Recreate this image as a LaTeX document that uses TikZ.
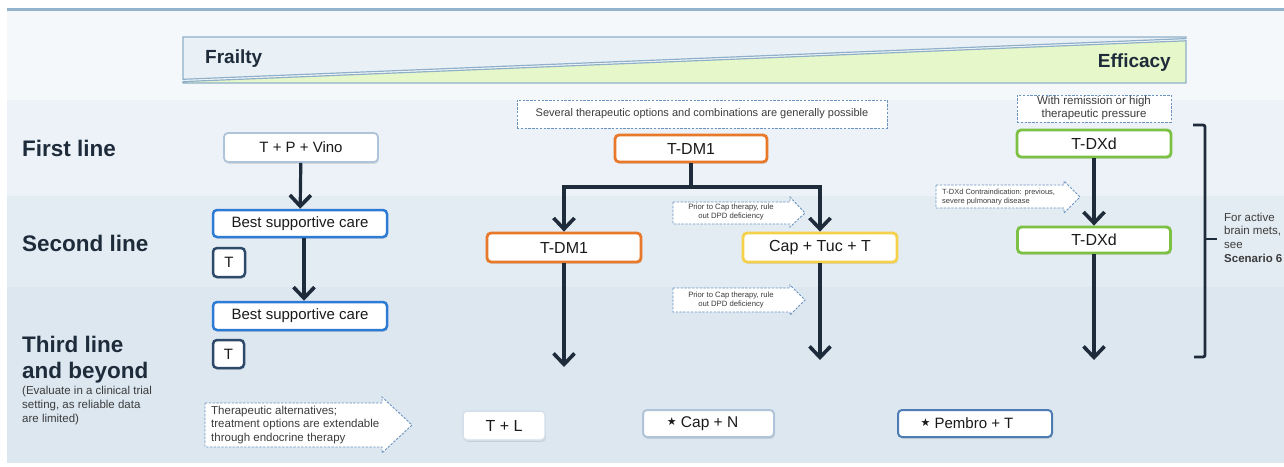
\documentclass[tikz,border=0pt]{standalone}
\usepackage{fontspec}
\setmainfont{Liberation Sans}
\newfontfamily\symfont{DejaVu Sans}
\usetikzlibrary{arrows.meta,shadows}

\definecolor{navy}{HTML}{1E2B3A}
\definecolor{bandA}{HTML}{F4F8FB}
\definecolor{bandB}{HTML}{ECF2F7}
\definecolor{bandC}{HTML}{E4ECF3}
\definecolor{bandD}{HTML}{DCE7F0}
\definecolor{ruleblue}{HTML}{93B4CC}
\definecolor{bannerline}{HTML}{8FB0C8}
\definecolor{frailfill}{HTML}{E9F0F6}
\definecolor{efffill}{HTML}{E6F7C9}
\definecolor{dashblue}{HTML}{6A93BF}
\definecolor{paleedge}{HTML}{AFC4D8}
\definecolor{faintedge}{HTML}{D3DFEA}
\definecolor{bscblue}{HTML}{2E7BD6}
\definecolor{tnavy}{HTML}{2D4A6B}
\definecolor{orangeedge}{HTML}{E8782A}
\definecolor{yellowedge}{HTML}{F5D04A}
\definecolor{greenedge}{HTML}{7CC143}
\definecolor{pembroedge}{HTML}{4E7DB5}
\definecolor{notetext}{HTML}{3C3C3C}
\definecolor{boxtext}{HTML}{1A1A1A}

\newcommand\fsz[2]{\fontsize{#1}{#2}\selectfont}
\newcommand\starmark{\raisebox{2pt}{\symfont\fsz{11}{11}★}}

\begin{document}
\begin{tikzpicture}[x=1pt,y=-1pt,
  box/.style={rounded corners=4pt, fill=white, inner sep=0pt, align=center,
    text=boxtext, drop shadow={shadow xshift=0.8pt, shadow yshift=-1.8pt, opacity=0.22}},
  arr/.style={draw=navy, line width=3.2pt, -{Straight Barb[length=11pt,width=21pt,line width=3.6pt]}},
  trunk/.style={draw=navy, line width=3.2pt},
  note/.style={draw=dashblue, dash pattern=on 2.4pt off 1.4pt, line width=0.9pt, fill=white},
  rowlabel/.style={font=\bfseries\fsz{22.5}{26}, text=navy, anchor=west, align=left, inner sep=0pt},
  notetxt/.style={text=notetext, inner sep=0pt}
]
\useasboundingbox (0,0) rectangle (1284,466);

% background bands
\fill[white] (0,0) rectangle (1284,466);
\fill[bandA] (7,10) rectangle (1284,100);
\fill[bandB] (7,100) rectangle (1284,196);
\fill[bandC] (7,196) rectangle (1284,287);
\fill[bandD] (7,287) rectangle (1284,463);
\draw[ruleblue, line width=2.2pt] (7,9.5) -- (1284,9.5);

% frailty / efficacy banner
\filldraw[fill=frailfill, draw=bannerline, line width=1.2pt]
  (183,37) -- (1186,37) -- (1186,38.6) -- (183,79.3) -- cycle;
\filldraw[fill=efffill, draw=bannerline, line width=1.2pt]
  (183,81.6) -- (1186,40.8) -- (1186,83) -- (183,83) -- cycle;
\node[font=\bfseries\fsz{19}{22}, text=navy, anchor=west, inner sep=0pt] (frailty) at (205,59) {Frailty};
\node[font=\bfseries\fsz{19}{22}, text=navy, anchor=east, inner sep=0pt] (efficacy) at (1171,63) {Efficacy};

% row labels
\node[rowlabel] (first) at (22,148) {First line};
\node[rowlabel] (second) at (22,243) {Second line};
\node[rowlabel] (third) at (22,360) {Third line\\and beyond};
\node[anchor=north west, align=left, inner sep=0pt, text=notetext, font=\fsz{11.5}{14}] (evaluate) at (22,386)
  {(Evaluate in a clinical trial\\setting, as reliable data\\are limited)};

% dashed notes
\node[note, minimum width=370pt, minimum height=28pt, inner sep=0pt, font=\fsz{11}{13}, text=notetext] (several)
  at (702,114) {Several therapeutic options and combinations are generally possible};
\node[note, minimum width=154pt, minimum height=27pt, inner sep=0pt, font=\fsz{11.5}{13}, text=notetext, align=center] (remission)
  at (1094,108.5) {With remission or high\\therapeutic pressure};

% dashed arrow-shaped callouts
\filldraw[note] (673,202) -- (790,202) -- (790,197) -- (805,213) -- (790,227) -- (790,224) -- (673,224) -- cycle;
\node[notetxt, align=center, font=\fsz{7.7}{9}] (dpdA) at (731,212.5) {Prior to Cap therapy, rule\\out DPD deficiency};
\filldraw[note] (673,288) -- (790,288) -- (790,285) -- (805,300) -- (790,315) -- (790,312) -- (673,312) -- cycle;
\node[notetxt, align=center, font=\fsz{7.7}{9}] (dpdB) at (731,300) {Prior to Cap therapy, rule\\out DPD deficiency};
\filldraw[note] (936,185) -- (1064,185) -- (1064,181) -- (1080,197) -- (1064,213) -- (1064,208) -- (936,208) -- cycle;
\node[notetxt, align=left, anchor=west, font=\fsz{7.5}{9}] (ci) at (942,197.5) {T-DXd Contraindication: previous,\\severe pulmonary disease};
\filldraw[note] (205,403) -- (382,403) -- (382,397) -- (412,425) -- (382,453) -- (382,447) -- (205,447) -- cycle;
\node[notetxt, align=left, anchor=west, font=\fsz{11.5}{13.5}] (alt) at (211,424.7)
  {Therapeutic alternatives;\\treatment options are extendable\\through endocrine therapy};

% treatment boxes
\node[box, draw=paleedge, line width=1.8pt, minimum width=154pt, minimum height=29pt, font=\fsz{15}{18}] (tpv) at (301,147.5) {T + P + Vino};
\node[box, draw=bscblue, line width=2.5pt, minimum width=174pt, minimum height=27pt, font=\fsz{15}{18}] (bscA) at (300,223.5) {Best supportive care};
\node[box, draw=tnavy, line width=2.5pt, minimum width=32pt, minimum height=29pt, font=\fsz{15}{18}] (tA) at (229,262.5) {T};
\node[box, draw=bscblue, line width=2.5pt, minimum width=174pt, minimum height=28pt, font=\fsz{15}{18}] (bscB) at (300,316) {Best supportive care};
\node[box, draw=tnavy, line width=2.5pt, minimum width=31pt, minimum height=28pt, font=\fsz{15}{18}] (tB) at (228.5,354) {T};

\node[box, draw=orangeedge, line width=2.8pt, minimum width=152pt, minimum height=27pt, font=\fsz{16}{19}] (tdmA) at (691,148.5) {T-DM1};
\node[box, draw=orangeedge, line width=2.8pt, minimum width=154pt, minimum height=29pt, font=\fsz{16}{19}] (tdmB) at (564,247.5) {T-DM1};
\node[box, draw=yellowedge, line width=2.8pt, minimum width=154pt, minimum height=29pt, font=\fsz{16}{19}] (cap) at (820,247.5) {Cap + Tuc + T};

\node[box, draw=greenedge, line width=2.8pt, minimum width=154pt, minimum height=27pt, font=\fsz{16}{19}] (tdxA) at (1094,143.5) {T-DXd};
\node[box, draw=greenedge, line width=2.8pt, minimum width=153pt, minimum height=26pt, font=\fsz{16}{19}] (tdxB) at (1094,240) {T-DXd};

\node[box, draw=faintedge, line width=1.5pt, minimum width=82pt, minimum height=29pt, font=\fsz{16}{19}] (tl) at (504,425.5) {T + L};
\node[box, draw=paleedge, line width=2pt, minimum width=131pt, minimum height=27pt, font=\fsz{15.5}{18}] (capn) at (708.5,423.5) {\starmark\ Cap + N\hspace{12pt}};
\node[box, draw=pembroedge, line width=2pt, minimum width=154pt, minimum height=27pt, font=\fsz{15}{18}] (pembro) at (975,423.5) {\starmark\ Pembro + T\hspace{16pt}};

% open ends of the third-line arrows and the branch point
\coordinate (split) at (691,187);
\coordinate (endA) at (564,367);
\coordinate (endB) at (820,360);
\coordinate (endC) at (1094,360);

% connectors
\draw[arr] (tpv) -- (bscA);
\draw[arr] ([xshift=4pt]bscA.south) -- ([xshift=4pt]bscB.north);
\draw[trunk] (tdmA.south) -- (split);
\draw[arr] (split) -| (tdmB.north);
\draw[arr] (split) -| (cap.north);
\draw[arr] (tdmB.south) -- (endA);
\draw[arr] (cap.south) -- (endB);
\draw[arr] (tdxA) -- (tdxB);
\draw[arr] (tdxB.south) -- (endC);

% bracket for brain metastases
\draw[navy, line width=2.8pt, rounded corners=2pt] (1193,125) -- (1205,125) -- (1205,357) -- (1194,357);
\draw[navy, line width=2.8pt] (1205,239) -- (1217,239);
\node[anchor=west, align=left, inner sep=0pt, text=notetext, font=\fsz{11.5}{13.7}] (brain) at (1224,237.5)
  {For active\\brain mets,\\see\\\textbf{Scenario 6}};
\end{tikzpicture}
\end{document}
